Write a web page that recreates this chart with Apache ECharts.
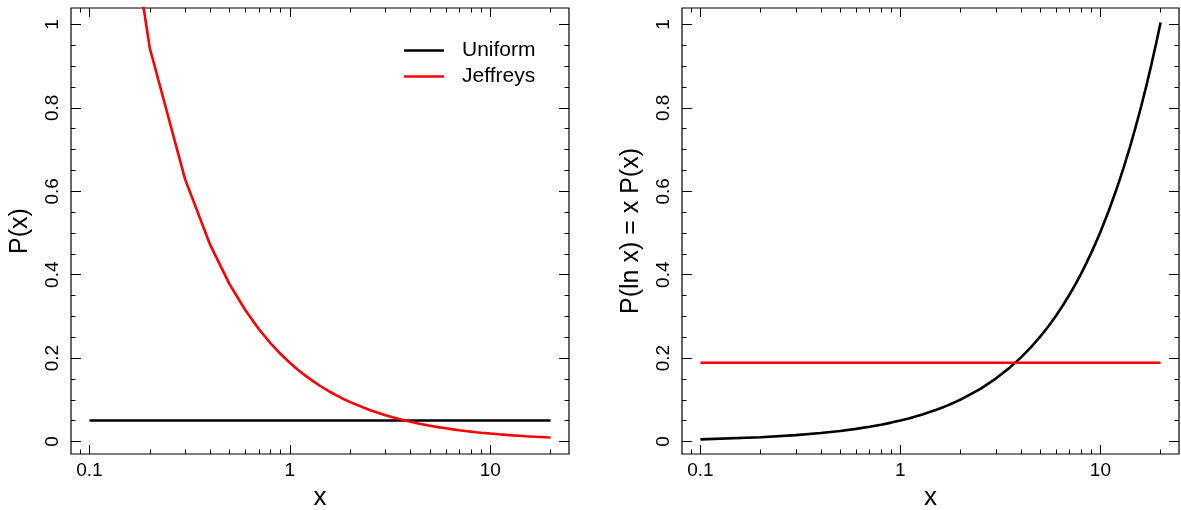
<!DOCTYPE html>
<html><head><meta charset="utf-8">
<script src="https://cdn.jsdelivr.net/npm/echarts@6/dist/echarts.min.js"></script>
<style>html,body{margin:0;padding:0;background:#fff}#c{width:1181px;height:510px}</style>
</head><body><div id="c"></div>
<script>
// x grid (log scale)
const xs = [0.1,0.2,0.3,0.4,0.5,0.6,0.7,0.8,0.9,1.0,1.1,1.2,1.3,1.4,1.5,1.6,1.7,1.8,1.9,2.0,
  2.5,3.0,3.5,4.0,4.5,5.0,5.5,6.0,6.5,7.0,7.5,8.0,8.5,9.0,9.5,10,11,12,13,14,15,16,17,18,19,20];
// Left panel: P(x)
const jeffreysP = [1.8874,0.9437,0.6291,0.4719,0.3775,0.3146,0.2696,0.2359,0.2097,0.1887,
  0.1716,0.1573,0.1452,0.1348,0.1258,0.1180,0.1110,0.1049,0.0993,0.0944,
  0.0755,0.0629,0.0539,0.0472,0.0419,0.0377,0.0343,0.0315,0.0290,0.0270,0.0252,0.0236,0.0222,0.0210,0.0199,0.0189,
  0.0172,0.0157,0.0145,0.0135,0.0126,0.0118,0.0111,0.0105,0.0099,0.0094];
const uniformX = [0.1, 20];
const uniformP = [0.0503, 0.0503];
// Right panel: x P(x)
const uniformXP = [0.0050,0.0101,0.0151,0.0201,0.0251,0.0302,0.0352,0.0402,0.0452,0.0503,
  0.0553,0.0603,0.0653,0.0704,0.0754,0.0804,0.0854,0.0905,0.0955,0.1005,
  0.1256,0.1508,0.1759,0.2010,0.2261,0.2513,0.2764,0.3015,0.3266,0.3518,0.3769,0.4020,0.4271,0.4523,0.4774,0.5025,
  0.5528,0.6030,0.6533,0.7035,0.7538,0.8040,0.8543,0.9045,0.9548,1.0050];
const jeffreysXP = [0.1887, 0.1887];
// ticks
const xMajorTicks = [0.1, 1, 10];
const xMinorTicks = [0.09,0.2,0.3,0.4,0.5,0.6,0.7,0.8,0.9,2,3,4,5,6,7,8,9,20];
const yMajorTicks = [0, 0.2, 0.4, 0.6, 0.8, 1];
const yMinorTicks = [0,0.05,0.1,0.15,0.2,0.25,0.3,0.35,0.4,0.45,0.5,0.55,0.6,0.65,0.7,0.75,0.8,0.85,0.9,0.95,1];
const seriesNames = ['Uniform', 'Jeffreys'];
const yTitles = ['P(x)', 'P(ln x) = x P(x)'];
const xTitle = 'x';

const X_MIN = 0.08091, X_MAX = 24.72, Y_MIN = -0.0301, Y_MAX = 1.0396;
const FONT = "'Liberation Sans', Arial, Helvetica, sans-serif";

const grids = [
  {left: 71, top: 8, width: 498, height: 446},
  {left: 682, top: 8, width: 497, height: 446}
];

function fmtX(v){ return v < 1 ? (Math.round(v*10)/10).toString() : String(Math.round(v)); }
function fmtY(v){ return String(Math.round(v*10)/10); }

const xAxes = [], yAxes = [];
grids.forEach((g, gi) => {
  ['bottom','top'].forEach(pos => {
    [[xMinorTicks, 4.5, false], [xMajorTicks, 9, pos === 'bottom']].forEach(([vals, len, lab]) => {
      xAxes.push({
        type: 'log', logBase: 10, gridIndex: gi, position: pos, min: X_MIN, max: X_MAX,
        axisLine: {show: false, onZero: false}, splitLine: {show: false},
        axisTick: {show: true, inside: true, length: len, customValues: vals, lineStyle: {color: '#000', width: 1}},
        axisLabel: {show: lab, customValues: vals, formatter: fmtX, margin: 7,
          color: '#000', fontSize: 19, fontFamily: FONT},
        name: (lab ? xTitle : ''), nameLocation: 'middle', nameGap: 30,
        nameTextStyle: {color: '#000', fontSize: 26, fontFamily: FONT}
      });
    });
  });
  ['left','right'].forEach(pos => {
    [[yMinorTicks, 4.5, false], [yMajorTicks, 10, pos === 'left']].forEach(([vals, len, lab]) => {
      yAxes.push({
        type: 'value', gridIndex: gi, position: pos, min: Y_MIN, max: Y_MAX,
        axisLine: {show: false, onZero: false}, splitLine: {show: false},
        axisTick: {show: true, inside: true, length: len, customValues: vals, lineStyle: {color: '#000', width: 1}},
        axisLabel: {show: lab, customValues: vals, formatter: fmtY, rotate: 90, margin: 9,
          color: '#000', fontSize: 19, fontFamily: FONT},
        name: (lab ? yTitles[gi] : ''), nameLocation: 'middle', nameGap: 38, nameRotate: 90,
        nameTextStyle: {color: '#000', fontSize: 25, fontFamily: FONT}
      });
    });
  });
});

function pairs(xv, yv){ return xv.map((x, i) => [x, yv[i]]); }
function line(name, xi, yi, data, color){
  return {type: 'line', name, xAxisIndex: xi, yAxisIndex: yi, data, symbol: 'none', showSymbol: false,
    lineStyle: {color, width: 2.6}, itemStyle: {color}, clip: true, silent: true, animation: false, z: 3};
}

const option = {
  animation: false,
  backgroundColor: '#fff',
  grid: grids.map(g => Object.assign({show: true, borderColor: '#000', borderWidth: 1.2, backgroundColor: 'transparent',
    containLabel: false, outerBoundsMode: 'none'}, g)),
  xAxis: xAxes,
  yAxis: yAxes,
  legend: {
    show: true, orient: 'vertical', left: 404, top: 40, padding: 0, itemGap: 5,
    icon: 'rect', itemWidth: 40, itemHeight: 2.6,
    data: seriesNames,
    textStyle: {color: '#000', fontSize: 21, fontFamily: FONT, padding: [0, 0, 0, 13], lineHeight: 21},
    selectedMode: false
  },
  series: [
    line(seriesNames[0], 0, 0, pairs(uniformX, uniformP), '#000'),
    line(seriesNames[1], 0, 0, pairs(xs, jeffreysP), '#ff0000'),
    line(seriesNames[0], 4, 4, pairs(xs, uniformXP), '#000'),
    line(seriesNames[1], 4, 4, pairs(uniformX, jeffreysXP), '#ff0000')
  ]
};
const chart = echarts.init(document.getElementById('c'), null, {renderer: 'canvas'});
chart.setOption(option);
</script></body></html>
